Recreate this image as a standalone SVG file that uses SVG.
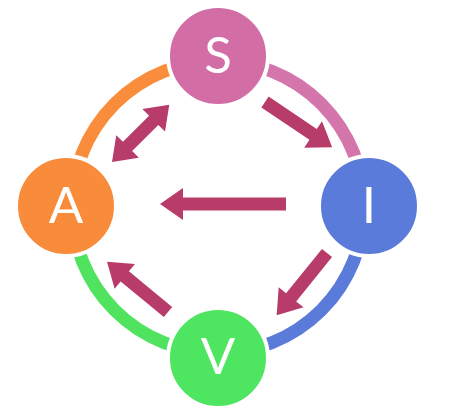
<svg xmlns="http://www.w3.org/2000/svg" width="451" height="411" viewBox="0 0 451 411">
<style>
.ring{fill:none;stroke-width:13}
.node{stroke:#fff;stroke-width:4}
.lbl{fill:#fff;font-family:Lato,"Open Sans","Liberation Sans",sans-serif;font-size:51px;text-anchor:middle}
.arr{fill:#B83C69}
</style>
<rect width="451" height="411" fill="#fff"/>
<g id="connectors">
<path class="ring" stroke="#F98D3C" d="M72,207 A146,146 0 0 1 218,61"/>
<path class="ring" stroke="#D476AB" d="M218,61 A146,146 0 0 1 364,207"/>
<path class="ring" stroke="#5B7BDA" d="M364,207 A146,146 0 0 1 218,353"/>
<path class="ring" stroke="#4FE35F" d="M218,353 A146,146 0 0 1 72,207"/>
<polygon class="arr" transform="translate(265,102) rotate(34)" points="0,-6.5 58,-6.5 58,-16 81,0 58,16 58,6.5 0,6.5"/>
<polygon class="arr" transform="translate(286,204) rotate(180)" points="0,-6.5 103,-6.5 103,-16 126,0 103,16 103,6.5 0,6.5"/>
<polygon class="arr" transform="translate(327,253) rotate(129)" points="0,-6.5 57,-6.5 57,-16 80,0 57,16 57,6.5 0,6.5"/>
<polygon class="arr" transform="translate(168,312) rotate(219.5)" points="0,-6.5 56,-6.5 56,-16 79,0 56,16 56,6.5 0,6.5"/>
<polygon class="arr" transform="translate(112,162) rotate(-45)" points="0,0 22,-16 22,-6.5 59,-6.5 59,-16 81,0 59,16 59,6.5 22,6.5 22,16"/>
</g>
<g id="node-S"><circle class="node" cx="218" cy="56" r="50" fill="#D26DA6"/><text class="lbl" x="218" y="73">S</text></g>
<g id="node-A"><circle class="node" cx="66" cy="206" r="50" fill="#F98C3B"/><text class="lbl" x="66" y="223">A</text></g>
<g id="node-I"><circle class="node" cx="369" cy="206" r="50" fill="#5B7BDB"/><text class="lbl" x="369" y="223">I</text></g>
<g id="node-V"><circle class="node" cx="218" cy="358" r="50" fill="#4EE660"/><text class="lbl" x="218" y="374">V</text></g>
</svg>
